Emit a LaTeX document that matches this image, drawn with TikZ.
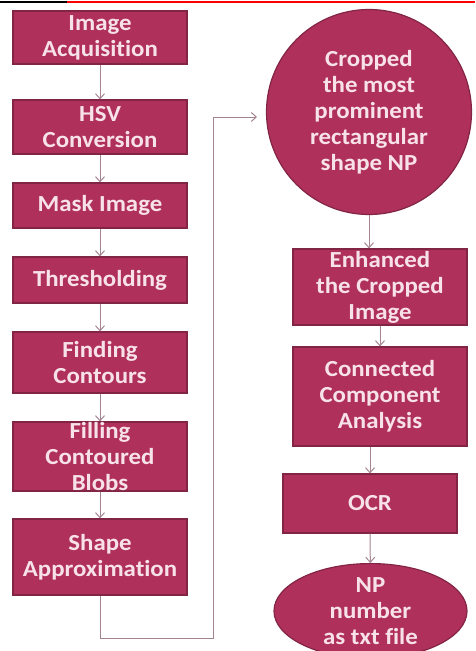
\documentclass[tikz,border=0pt]{standalone}
\usepackage{fontspec}
\setmainfont{Carlito}[FakeStretch=1.08,Ligatures=NoCommon]
\usepackage{tikz}
\usetikzlibrary{shapes.geometric,arrows.meta}
\definecolor{npfill}{RGB}{176,48,92}
\definecolor{npline}{RGB}{130,36,70}
\definecolor{nptext}{RGB}{248,226,234}
\definecolor{nparrow}{RGB}{165,132,146}

\begin{document}
\begin{tikzpicture}[x=1pt,y=-1pt,
  box/.style={draw=npline,fill=npfill,line width=1.2pt,text=nptext,align=center,
    inner sep=0pt,minimum width=174pt,font=\fontsize{23}{26}\selectfont\bfseries},
  arr/.style={-{Straight Barb[length=5pt,width=9pt]},draw=nparrow,line width=1pt}]

\useasboundingbox (0,0) rectangle (475,651);
\draw[black,line width=2pt] (0,2) -- (67,2);
\draw[red,line width=2pt] (67,2) -- (475,2);

\node[box,minimum height=53pt] (acq) at (100,37.5) {Image\\Acquisition};
\node[box,minimum height=54pt] (hsv) at (100,127) {HSV\\Conversion};
\node[box,minimum height=45pt] (mask) at (100,205.5) {Mask Image};
\node[box,minimum height=46pt] (thr) at (100,280) {Thresholding};
\node[box,minimum height=61pt] (cont) at (100,362.5) {Finding\\Contours};
\node[box,minimum height=69pt] (fill) at (100,456.5) {Filling\\Contoured\\Blobs};
\node[box,minimum height=76pt] (shape) at (100,557) {Shape\\Approximation};

\node[box,circle,minimum width=205pt] (crop) at (369,112) {Cropped\\the most\\prominent\\rectangular\\shape NP};
\node[box,minimum height=76pt] (enh) at (380,287) {Enhanced\\the Cropped\\Image};
\node[box,minimum height=99pt] (conn) at (380,396.5) {Connected\\Component\\Analysis};
\node[box,minimum height=59pt] (ocr) at (370,503.5) {OCR};
\node[box,ellipse,minimum width=193pt,minimum height=78pt] (txt) at (370.5,611) {NP\\number\\as txt file};

\coordinate (loopa) at (100,638);
\coordinate (loopb) at (213,117);
\coordinate (loopc) at (257,117);

\draw[arr] (acq) -- (hsv);
\draw[arr] (hsv) -- (mask);
\draw[arr] (mask) -- (thr);
\draw[arr] (thr) -- (cont);
\draw[arr] (cont) -- (fill);
\draw[arr] (fill) -- (shape);
\draw[arr] (shape) -- (loopa) -| (loopb) -- (loopc);
\draw[arr] (crop.south) -- (crop.south |- enh.north);
\draw[arr] (enh) -- (conn);
\draw[arr] (conn.south -| ocr) -- (ocr);
\draw[arr] (ocr) -- (txt);

\end{tikzpicture}
\end{document}
